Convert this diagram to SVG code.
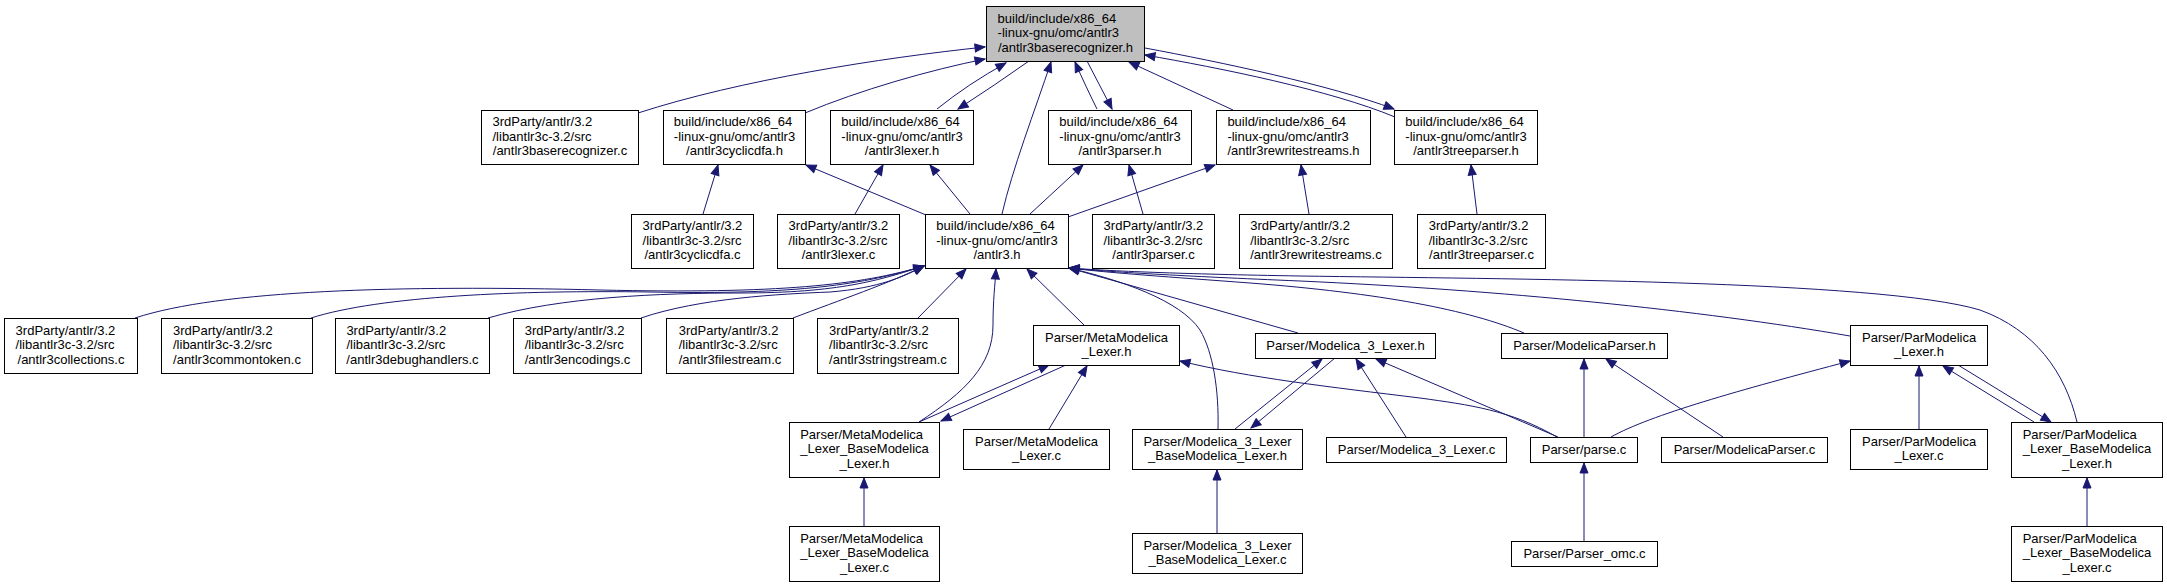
<svg xmlns="http://www.w3.org/2000/svg" width="2167" height="587" viewBox="0 0 2167 587">
<style>
.n rect{fill:#fff;stroke:#000;stroke-width:1}
#n0 rect{fill:#bfbfbf}
text{font-family:"Liberation Sans",Arial,Helvetica,sans-serif;font-size:13px;fill:#000}
.m{text-anchor:middle}
.e path{fill:none;stroke:#191970;stroke-width:1;marker-end:url(#a)}
</style>
<defs>
<marker id="a" markerUnits="userSpaceOnUse" markerWidth="12" markerHeight="10" refX="10" refY="4" orient="auto" overflow="visible">
<path d="M0,0 L10,4 L0,8 z" fill="#191970" stroke="#191970" stroke-width="1"/>
</marker>
</defs>
<rect width="2167" height="587" fill="#fff"/>
<g class="e">
<path d="M638,113 C740,80 880,58 985,47"/>
<path d="M805,113 C860,90 930,70 985,59"/>
<path d="M937,109 Q968,84 1006,63"/>
<path d="M1029,61 Q995,85 958,109"/>
<path d="M1002,214 C1012,170 1035,110 1051,62"/>
<path d="M1097,109 C1090,95 1082,78 1075,62"/>
<path d="M1087,61 C1095,77 1104,93 1112,109"/>
<path d="M1233,110 L1129,62"/>
<path d="M1395,117 C1330,90 1220,68 1145,55"/>
<path d="M1145,48 C1220,62 1330,85 1394,109"/>
<path d="M703,214 L718,165"/>
<path d="M926,215 L806,165"/>
<path d="M855,214 L883,165"/>
<path d="M970,214 L930,165"/>
<path d="M1030,214 L1083,165"/>
<path d="M1143,214 L1129,165"/>
<path d="M1068,217 L1215,165"/>
<path d="M1309,214 L1301,165"/>
<path d="M1477,214 L1471,165"/>
<path d="M135,318 C220,290 400,285 600,290 C780,294 860,285 924,266"/>
<path d="M311,318 C380,296 520,290 650,292 C800,295 865,284 924,266"/>
<path d="M488,318 C560,297 660,293 740,293 C840,293 880,280 924,266"/>
<path d="M641,318 C700,298 780,294 830,292 C880,288 905,276 924,266"/>
<path d="M793,318 C840,300 890,283 924,266"/>
<path d="M918,318 L966,269"/>
<path d="M1084,325 L1027,269"/>
<path d="M919,422 C965,392 993,365 993,325 C993,300 995,285 996,269"/>
<path d="M1298,333 L1069,268"/>
<path d="M1218,429 C1219,390 1213,352 1200,330 C1180,300 1120,280 1069,268"/>
<path d="M1524,333 C1470,310 1380,293 1250,283 C1170,277 1110,273 1069,268"/>
<path d="M1850,336 C1700,310 1500,290 1300,281 C1180,276 1110,272 1069,268"/>
<path d="M2077,422 C2065,372 2035,330 1980,310 C1880,280 1500,279 1300,276 C1180,274 1110,271 1069,268"/>
<path d="M919,422 L1049,365"/>
<path d="M1066,365 L941,421"/>
<path d="M1049,429 L1087,366"/>
<path d="M1557,437 C1510,410 1470,405 1420,398 C1330,387 1250,378 1180,361"/>
<path d="M1235,429 L1322,359"/>
<path d="M1335,358 L1251,428"/>
<path d="M1406,437 L1356,359"/>
<path d="M1558,437 L1376,359"/>
<path d="M1584,437 L1584,359"/>
<path d="M1723,437 L1606,359"/>
<path d="M1584,541 L1584,463"/>
<path d="M1611,437 C1650,415 1740,390 1850,361"/>
<path d="M1919,429 L1919,366"/>
<path d="M2034,422 L1943,366"/>
<path d="M1958,365 L2051,422"/>
<path d="M2087,526 L2087,478"/>
<path d="M1217,533 L1217,470"/>
<path d="M864,526 L864,478"/>
</g>
<g id="n0" class="n"><rect x="986.5" y="6.5" width="158" height="55"/><text x="997.6" y="22.7">build/include/x86_64</text><text x="997.6" y="37.1">-linux-gnu/omc/antlr3</text><text class="m" x="1065.5" y="51.5">/antlr3baserecognizer.h</text></g>
<g id="n1" class="n"><rect x="481.5" y="110.5" width="157" height="54"/><text x="492.5" y="126.2">3rdParty/antlr/3.2</text><text x="492.5" y="140.6">/libantlr3c-3.2/src</text><text class="m" x="560" y="155">/antlr3baserecognizer.c</text></g>
<g id="n2" class="n"><rect x="663.5" y="110.5" width="142" height="54"/><text x="673.8" y="126.2">build/include/x86_64</text><text x="673.8" y="140.6">-linux-gnu/omc/antlr3</text><text class="m" x="734.5" y="155">/antlr3cyclicdfa.h</text></g>
<g id="n3" class="n"><rect x="830.5" y="110.5" width="143" height="54"/><text x="841.3" y="126.2">build/include/x86_64</text><text x="841.3" y="140.6">-linux-gnu/omc/antlr3</text><text class="m" x="902" y="155">/antlr3lexer.h</text></g>
<g id="n4" class="n"><rect x="1048.5" y="110.5" width="143" height="54"/><text x="1059.3" y="126.2">build/include/x86_64</text><text x="1059.3" y="140.6">-linux-gnu/omc/antlr3</text><text class="m" x="1120" y="155">/antlr3parser.h</text></g>
<g id="n5" class="n"><rect x="1216.5" y="110.5" width="154" height="54"/><text x="1227.4" y="126.2">build/include/x86_64</text><text x="1227.4" y="140.6">-linux-gnu/omc/antlr3</text><text class="m" x="1293.5" y="155">/antlr3rewritestreams.h</text></g>
<g id="n6" class="n"><rect x="1394.5" y="110.5" width="143" height="54"/><text x="1405.3" y="126.2">build/include/x86_64</text><text x="1405.3" y="140.6">-linux-gnu/omc/antlr3</text><text class="m" x="1466" y="155">/antlr3treeparser.h</text></g>
<g id="n7" class="n"><rect x="631.5" y="214.5" width="122" height="54"/><text x="642.6" y="230.2">3rdParty/antlr/3.2</text><text x="642.6" y="244.6">/libantlr3c-3.2/src</text><text class="m" x="692.5" y="259">/antlr3cyclicdfa.c</text></g>
<g id="n8" class="n"><rect x="777.5" y="214.5" width="122" height="54"/><text x="788.6" y="230.2">3rdParty/antlr/3.2</text><text x="788.6" y="244.6">/libantlr3c-3.2/src</text><text class="m" x="838.5" y="259">/antlr3lexer.c</text></g>
<g id="n9" class="n"><rect x="925.5" y="214.5" width="143" height="54"/><text x="936.3" y="230.2">build/include/x86_64</text><text x="936.3" y="244.6">-linux-gnu/omc/antlr3</text><text class="m" x="997" y="259">/antlr3.h</text></g>
<g id="n10" class="n"><rect x="1092.5" y="214.5" width="122" height="54"/><text x="1103.6" y="230.2">3rdParty/antlr/3.2</text><text x="1103.6" y="244.6">/libantlr3c-3.2/src</text><text class="m" x="1153.5" y="259">/antlr3parser.c</text></g>
<g id="n11" class="n"><rect x="1239.5" y="214.5" width="153" height="54"/><text x="1250.2" y="230.2">3rdParty/antlr/3.2</text><text x="1250.2" y="244.6">/libantlr3c-3.2/src</text><text class="m" x="1316" y="259">/antlr3rewritestreams.c</text></g>
<g id="n12" class="n"><rect x="1417.5" y="214.5" width="128" height="54"/><text x="1428.7" y="230.2">3rdParty/antlr/3.2</text><text x="1428.7" y="244.6">/libantlr3c-3.2/src</text><text class="m" x="1481.5" y="259">/antlr3treeparser.c</text></g>
<g id="n13" class="n"><rect x="4.5" y="318.5" width="133" height="55"/><text x="15.6" y="334.7">3rdParty/antlr/3.2</text><text x="15.6" y="349.1">/libantlr3c-3.2/src</text><text class="m" x="71" y="363.5">/antlr3collections.c</text></g>
<g id="n14" class="n"><rect x="161.5" y="318.5" width="151" height="55"/><text x="173" y="334.7">3rdParty/antlr/3.2</text><text x="173" y="349.1">/libantlr3c-3.2/src</text><text class="m" x="237" y="363.5">/antlr3commontoken.c</text></g>
<g id="n15" class="n"><rect x="335.5" y="318.5" width="154" height="55"/><text x="346.4" y="334.7">3rdParty/antlr/3.2</text><text x="346.4" y="349.1">/libantlr3c-3.2/src</text><text class="m" x="412.5" y="363.5">/antlr3debughandlers.c</text></g>
<g id="n16" class="n"><rect x="513.5" y="318.5" width="128" height="55"/><text x="524.7" y="334.7">3rdParty/antlr/3.2</text><text x="524.7" y="349.1">/libantlr3c-3.2/src</text><text class="m" x="577.5" y="363.5">/antlr3encodings.c</text></g>
<g id="n17" class="n"><rect x="666.5" y="318.5" width="127" height="55"/><text x="678.7" y="334.7">3rdParty/antlr/3.2</text><text x="678.7" y="349.1">/libantlr3c-3.2/src</text><text class="m" x="730" y="363.5">/antlr3filestream.c</text></g>
<g id="n18" class="n"><rect x="817.5" y="318.5" width="141" height="55"/><text x="829.1" y="334.7">3rdParty/antlr/3.2</text><text x="829.1" y="349.1">/libantlr3c-3.2/src</text><text class="m" x="888" y="363.5">/antlr3stringstream.c</text></g>
<g id="n19" class="n"><rect x="1033.5" y="325.5" width="146" height="40"/><text x="1045.1" y="341.5">Parser/MetaModelica</text><text class="m" x="1106.5" y="355.9">_Lexer.h</text></g>
<g id="n20" class="n"><rect x="1255.5" y="333.5" width="180" height="25"/><text class="m" x="1345.5" y="349.5">Parser/Modelica_3_Lexer.h</text></g>
<g id="n21" class="n"><rect x="1501.5" y="333.5" width="166" height="25"/><text class="m" x="1584.5" y="349.5">Parser/ModelicaParser.h</text></g>
<g id="n22" class="n"><rect x="1850.5" y="325.5" width="137" height="40"/><text x="1862" y="341.5">Parser/ParModelica</text><text class="m" x="1919" y="355.9">_Lexer.h</text></g>
<g id="n23" class="n"><rect x="789.5" y="422.5" width="150" height="55"/><text x="800.2" y="438.7">Parser/MetaModelica</text><text x="800.2" y="453.1">_Lexer_BaseModelica</text><text class="m" x="864.5" y="467.5">_Lexer.h</text></g>
<g id="n24" class="n"><rect x="963.5" y="429.5" width="146" height="40"/><text x="975.1" y="445.5">Parser/MetaModelica</text><text class="m" x="1036.5" y="459.9">_Lexer.c</text></g>
<g id="n25" class="n"><rect x="1132.5" y="429.5" width="170" height="40"/><text x="1143.4" y="445.5">Parser/Modelica_3_Lexer</text><text class="m" x="1217.5" y="459.9">_BaseModelica_Lexer.h</text></g>
<g id="n26" class="n"><rect x="1326.5" y="437.5" width="180" height="25"/><text class="m" x="1416.5" y="453.5">Parser/Modelica_3_Lexer.c</text></g>
<g id="n27" class="n"><rect x="1530.5" y="437.5" width="107" height="25"/><text class="m" x="1584" y="453.5">Parser/parse.c</text></g>
<g id="n28" class="n"><rect x="1661.5" y="437.5" width="166" height="25"/><text class="m" x="1744.5" y="453.5">Parser/ModelicaParser.c</text></g>
<g id="n29" class="n"><rect x="1850.5" y="429.5" width="137" height="40"/><text x="1862" y="445.5">Parser/ParModelica</text><text class="m" x="1919" y="459.9">_Lexer.c</text></g>
<g id="n30" class="n"><rect x="2011.5" y="422.5" width="151" height="55"/><text x="2022.7" y="438.7">Parser/ParModelica</text><text x="2022.7" y="453.1">_Lexer_BaseModelica</text><text class="m" x="2087" y="467.5">_Lexer.h</text></g>
<g id="n31" class="n"><rect x="789.5" y="526.5" width="150" height="55"/><text x="800.2" y="542.7">Parser/MetaModelica</text><text x="800.2" y="557.1">_Lexer_BaseModelica</text><text class="m" x="864.5" y="571.5">_Lexer.c</text></g>
<g id="n32" class="n"><rect x="1132.5" y="533.5" width="170" height="40"/><text x="1143.4" y="549.5">Parser/Modelica_3_Lexer</text><text class="m" x="1217.5" y="563.9">_BaseModelica_Lexer.c</text></g>
<g id="n33" class="n"><rect x="1511.5" y="541.5" width="146" height="25"/><text class="m" x="1584.5" y="557.5">Parser/Parser_omc.c</text></g>
<g id="n34" class="n"><rect x="2011.5" y="526.5" width="151" height="55"/><text x="2022.7" y="542.7">Parser/ParModelica</text><text x="2022.7" y="557.1">_Lexer_BaseModelica</text><text class="m" x="2087" y="571.5">_Lexer.c</text></g>
</svg>
